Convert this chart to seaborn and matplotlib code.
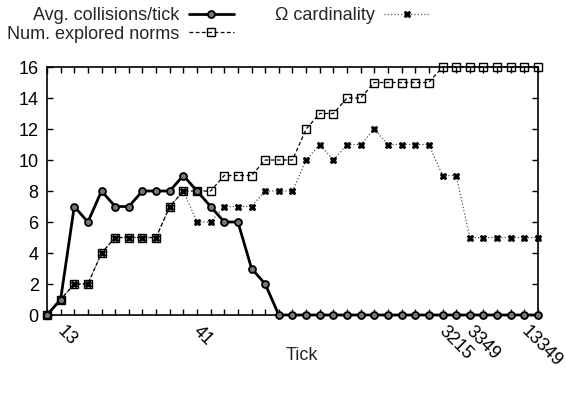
import numpy as np
import pandas as pd
import seaborn as sns
import matplotlib.transforms as mtrans
from matplotlib import pyplot as plt

# values, one per tick position
collisions = [0, 1, 7, 6, 8, 7, 7, 8, 8, 8, 9, 8, 7, 6, 6, 3, 2,
              0, 0, 0, 0, 0, 0, 0, 0, 0, 0, 0, 0, 0, 0, 0, 0, 0, 0, 0, 0]
norms = [0, 1, 2, 2, 4, 5, 5, 5, 5, 7, 8, 8, 8, 9, 9, 9, 10, 10, 10,
         12, 13, 13, 14, 14, 15, 15, 15, 15, 15, 16, 16, 16, 16, 16, 16, 16, 16]
omega = [0, 1, 2, 2, 4, 5, 5, 5, 5, 7, 8, 6, 6, 7, 7, 7, 8, 8, 8,
         10, 11, 10, 11, 11, 12, 11, 11, 11, 11, 9, 9, 5, 5, 5, 5, 5, 5]
tick_label_pos = [1, 11, 29, 31, 35]
tick_label_txt = ['13', '41', '3215', '3349', '13349']

df = pd.DataFrame({'pos': np.arange(len(collisions)),
                   'collisions': collisions, 'norms': norms, 'omega': omega})

sns.set_style("ticks")
plt.rcParams['font.family'] = ['Liberation Sans', 'DejaVu Sans']
FS = 13

fig, ax = plt.subplots(figsize=(5.66, 3.96), dpi=100)
fig.subplots_adjust(left=0.083, right=0.9505, bottom=0.2045, top=0.8308)

sns.lineplot(ax=ax, data=df, x='pos', y='omega', color='#555555', lw=0.9,
             linestyle=':', marker='X', markersize=5, markerfacecolor='black',
             markeredgecolor='black', label='Ω cardinality', zorder=2,
             clip_on=False)
sns.lineplot(ax=ax, data=df, x='pos', y='norms', color='black', lw=0.9,
             linestyle=(0, (3, 2)), marker='s', markersize=5.5,
             markerfacecolor='none', markeredgecolor='black', markeredgewidth=1,
             label='Num. explored norms', zorder=3, clip_on=False)
sns.lineplot(ax=ax, data=df, x='pos', y='collisions', color='black', lw=2,
             marker='o', markersize=5, markerfacecolor='#777777',
             markeredgecolor='black', markeredgewidth=1.3,
             label='Avg. collisions/tick', zorder=4, clip_on=False)

ax.set_xlim(0, len(collisions) - 1)
ax.set_ylim(0, 16)
ax.set_yticks(range(0, 17, 2))
labels = [''] * len(collisions)
for p, t in zip(tick_label_pos, tick_label_txt):
    labels[p] = t
ax.set_xticks(df['pos'])
ax.set_xticklabels(labels, rotation=-45, ha='left', va='top', rotation_mode='anchor')
ax.tick_params(direction='in', top=True, right=True, length=4, width=1,
               labelsize=FS, colors='black')
ax.tick_params(axis='y', labelright=False, pad=6)
shift = mtrans.ScaledTranslation(5 / 100, -3 / 100, fig.dpi_scale_trans)
for lab in ax.get_xticklabels():
    lab.set_transform(lab.get_transform() + shift)
for s in ax.spines.values():
    s.set_linewidth(1.2)
    s.set_color('black')
ax.set_xlabel('Tick', fontsize=FS)
ax.xaxis.set_label_coords(0.52, -0.13)
ax.set_ylabel('')

h, l = ax.get_legend_handles_labels()
ax.get_legend().remove()
order = [2, 1, 0]
fig.legend([h[i] for i in order], [l[i] for i in order], ncol=2,
           markerfirst=False, frameon=False, loc='upper left',
           bbox_to_anchor=(-0.006, 1.01), fontsize=FS, handlelength=2.5,
           handletextpad=0.5, columnspacing=2.3, labelspacing=0.1,
           borderaxespad=0.2)

fig.savefig('out.png', dpi=100)
